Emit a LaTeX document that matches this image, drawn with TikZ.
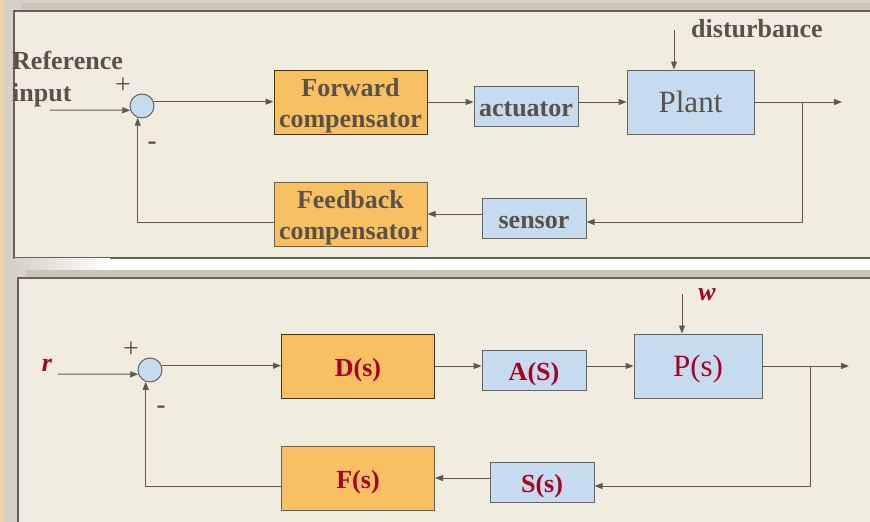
\documentclass[tikz,border=0pt]{standalone}
\usepackage{fontspec}
\setmainfont{Liberation Serif}
\usetikzlibrary{arrows.meta}
\definecolor{panelfill}{RGB}{240,237,224}
\definecolor{framegrey}{RGB}{213,209,200}
\definecolor{bandgrey}{RGB}{204,196,182}
\definecolor{edgegrey}{RGB}{104,99,90}
\definecolor{wire}{RGB}{94,88,80}
\definecolor{ink}{RGB}{90,81,73}
\definecolor{redink}{RGB}{165,0,33}
\definecolor{orangefill}{RGB}{248,192,98}
\definecolor{bluefill}{RGB}{198,219,239}
\definecolor{darkedge}{RGB}{62,56,22}
\definecolor{parch}{RGB}{233,213,168}
\begin{document}
\begin{tikzpicture}[x=1pt,y=-1pt,
  wire/.style={draw=wire,line width=1pt},
  arr/.style={wire,-{Triangle[length=8pt,width=6pt]}},
  blk/.style={draw=edgegrey,line width=1pt,inner sep=0pt,align=center},
  obox/.style={blk,fill=orangefill},
  bbox/.style={blk,fill=bluefill},
  oneline/.style={text height=21pt,text depth=0pt},
  summer/.style={circle,draw=edgegrey,line width=1pt,fill=bluefill,minimum size=24pt,inner sep=0pt},
  lbl/.style={font=\fontsize{26}{31}\selectfont\bfseries,text=ink},
  biglbl/.style={font=\fontsize{31}{34}\selectfont,text=ink},
  rlbl/.style={font=\fontsize{26}{31}\selectfont\bfseries,text=redink},
  rbig/.style={font=\fontsize{31}{34}\selectfont,text=redink},
  rvar/.style={font=\fontsize{26}{31}\selectfont\bfseries\itshape,text=redink,inner sep=0pt},
  sign/.style={font=\fontsize{28}{30}\selectfont,text=ink,inner sep=0pt},
  minus/.style={font=\fontsize{27}{30}\selectfont\bfseries,text=ink,inner sep=0pt},
  panel/.style={fill=panelfill,draw=edgegrey,line width=1.3pt}
]
\useasboundingbox (0,0) rectangle (870,522);
% frame and panels
\fill[framegrey] (0,0) rectangle (870,522);
\fill[parch] (0,0) rectangle (3.5,522);
\fill[bandgrey] (22,3) rectangle (870,11);
\draw[panel] (14,11) rectangle (874,258);
% light gap between the panels, fading from grey into white
\shade[left color=framegrey,right color=white] (14,258.7) rectangle (110,270);
\fill[white] (110,258.7) rectangle (870,270);
\fill[bandgrey] (26,270) rectangle (870,278);
\draw[panel] (18,278) rectangle (874,526);

% ---------- upper diagram: named blocks ----------
\node[summer] (sum) at (142,106) {};
\node[obox,draw=darkedge,minimum width=153pt,minimum height=64pt,
      label={[lbl,align=center,inner sep=0pt,yshift=-3.5pt]center:{Forward\\compensator}}] (fwd) at (350.5,102) {};
\node[bbox,oneline,minimum width=104pt,minimum height=40pt,lbl] (act) at (526,106) {actuator};
\node[bbox,oneline,minimum width=127pt,minimum height=64pt,biglbl] (plant) at (690.5,102) {Plant};
\node[bbox,oneline,minimum width=104pt,minimum height=40pt,lbl] (sensor) at (534,218) {sensor};
\node[obox,minimum width=153pt,minimum height=64pt,
      label={[lbl,align=center,inner sep=0pt,yshift=-3.5pt]center:{Feedback\\compensator}}] (fb) at (350.5,214) {};

\node[font=\fontsize{26}{32}\selectfont\bfseries,text=ink,align=left,anchor=north west,inner sep=0pt] (refin) at (12,50.5) {Reference\\input};
\node[lbl,anchor=base west,inner sep=0pt] (dist) at (691,37) {disturbance};
\node[sign] (plus1) at (123,86) {+};
\node[minus] (minus1) at (152,146) {-};

\coordinate (in1) at (50,110);
\coordinate (d1) at (674,30);
\coordinate (br1) at (802,102);
\coordinate (out1) at (842,102);

\draw[arr] (in1) -- (sum.200);
\draw[arr] (sum.20) -- (sum.20 -| fwd.west);
\draw[arr] (fwd.east) -- (fwd.east -| act.west);
\draw[arr] (fwd.east -| act.east) -- (plant.west);
\draw[arr] (plant.east) -- (out1);
\draw[arr] (d1) -- (d1 |- plant.north);
\draw[arr] (br1) |- ([yshift=-4pt]sensor.east);
\draw[arr] (sensor.west |- fb.east) -- (fb.east);
\draw[arr] ([yshift=-8pt]fb.west) -| (sum.250);

% ---------- lower diagram: transfer functions ----------
\node[summer] (sum2) at (150,370) {};
\node[obox,oneline,draw=darkedge,minimum width=153pt,minimum height=64pt,rlbl] (D) at (358,366) {D(s)};
\node[bbox,oneline,minimum width=104pt,minimum height=40pt,rlbl] (A) at (534,370) {A(S)};
\node[bbox,oneline,minimum width=128pt,minimum height=64pt,rbig] (P) at (698,366) {P(s)};
\node[bbox,oneline,minimum width=104pt,minimum height=40pt,rlbl] (S) at (542,482) {S(s)};
\node[obox,oneline,minimum width=153pt,minimum height=64pt,rlbl] (F) at (358,478) {F(s)};

\node[rvar] (r) at (47,365) {r};
\node[rvar] (w) at (707,295) {w};
\node[sign] (plus2) at (131,350) {+};
\node[minus] (minus2) at (161,410) {-};

\coordinate (in2) at (58,374);
\coordinate (w1) at (682,294);
\coordinate (br2) at (810,366);
\coordinate (out2) at (849,366);

\draw[arr] (in2) -- (sum2.200);
\draw[arr] (sum2.20) -- (sum2.20 -| D.west);
\draw[arr] (D.east) -- (D.east -| A.west);
\draw[arr] (D.east -| A.east) -- (P.west);
\draw[arr] (P.east) -- (out2);
\draw[arr] (w1) -- (w1 |- P.north);
\draw[arr] (br2) |- ([yshift=-4pt]S.east);
\draw[arr] (S.west |- F.east) -- (F.east);
\draw[arr] ([yshift=-8pt]F.west) -| (sum2.250);
\end{tikzpicture}
\end{document}
